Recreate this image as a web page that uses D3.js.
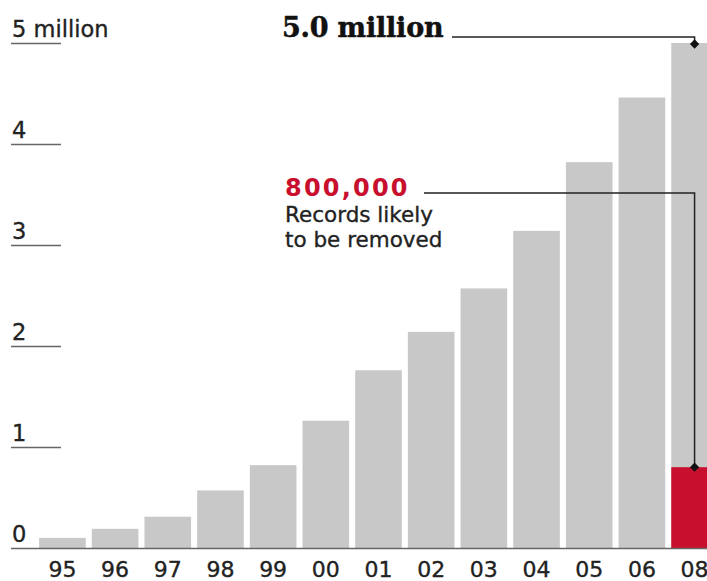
<!DOCTYPE html>
<html>
<head>
<meta charset="utf-8">
<script src="https://cdn.jsdelivr.net/npm/d3@7"></script>
<style>
  body { margin: 0; background: #fff; }
  svg { display: block; }
  .lbl { font-family: 'DejaVu Sans', sans-serif; fill: #222; stroke: #222; stroke-width: 0.35; }
</style>
</head>
<body>
<div id="chart"></div>
<script>
let width = 707,
  height = 581;

// data, millions of records
let years = ["95", "96", "97", "98", "99", "00", "01", "02", "03", "04", "05", "06", "08"];
let records = [0.1, 0.19, 0.31, 0.57, 0.82, 1.26, 1.76, 2.14, 2.57, 3.14, 3.82, 4.46, 5.0];
let removed = 0.8; // for the last year
let yTicks = [0, 1, 2, 3, 4, 5];
let yTickLabels = ["0", "1", "2", "3", "4", "5 million"];

let svg = d3.select("#chart")
  .append("svg")
  .attr("width", width)
  .attr("height", height);

let y = d3.scaleLinear()
  .domain([0, 5])
  .range([548, 43]);

let x = d3.scaleBand()
  .domain(years)
  .range([37, 720])
  .paddingInner(0.115)
  .paddingOuter(0.04);

// bars
svg.append("g")
  .selectAll("rect")
  .data(years)
  .join("rect")
  .attr("x", d => x(d))
  .attr("width", x.bandwidth())
  .attr("y", (d, i) => y(records[i]))
  .attr("height", (d, i) => y(0) - y(records[i]))
  .attr("fill", "#c8c8c8");

let last = years[years.length - 1];
svg.append("rect")
  .attr("x", x(last))
  .attr("width", x.bandwidth())
  .attr("y", y(removed))
  .attr("height", y(0) - y(removed))
  .attr("fill", "#c8102e");

// y ticks: short lines with label above
let yg = svg.append("g");
yg.selectAll("line")
  .data(yTicks.filter(d => d > 0))
  .join("line")
  .attr("x1", 11)
  .attr("x2", 61)
  .attr("y1", d => y(d) + 0.5)
  .attr("y2", d => y(d) + 0.5)
  .attr("stroke", "#666")
  .attr("stroke-width", 1.3);

yg.selectAll("text")
  .data(yTicks)
  .join("text")
  .attr("class", "lbl")
  .attr("x", 12)
  .attr("y", d => y(d) - 6)
  .attr("font-size", 22.5)
  .text((d, i) => yTickLabels[i]);

// baseline
svg.append("line")
  .attr("x1", 11)
  .attr("x2", width)
  .attr("y1", y(0) + 0.5)
  .attr("y2", y(0) + 0.5)
  .attr("stroke", "#666")
  .attr("stroke-width", 1.5);

// x labels
svg.append("g")
  .selectAll("text")
  .data(years)
  .join("text")
  .attr("class", "lbl")
  .attr("x", d => x(d) + x.bandwidth() / 2)
  .attr("y", 577)
  .attr("text-anchor", "middle")
  .attr("font-size", 22)
  .text(d => d);

// annotations
let px = x(last) + x.bandwidth() / 2;

function callout(yLine, yPoint, x0) {
  svg.append("path")
    .attr("d", `M${x0},${yLine}H${px}V${yPoint}`)
    .attr("fill", "none")
    .attr("stroke", "#222")
    .attr("stroke-width", 1.5);
  svg.append("path")
    .attr("d", d3.symbol(d3.symbolDiamond2, 55)())
    .attr("transform", `translate(${px},${yPoint})`)
    .attr("fill", "#111");
}

svg.append("text")
  .attr("x", 282)
  .attr("y", 37)
  .attr("font-family", "'DejaVu Serif', serif")
  .attr("font-weight", "bold")
  .attr("font-size", 27)
  .attr("letter-spacing", -0.2)
  .attr("fill", "#111")
  .attr("stroke", "#111")
  .attr("stroke-width", 0.5)
  .text("5.0 million");
callout(37, y(records[records.length - 1]) + 1, 452);

svg.append("text")
  .attr("x", 285)
  .attr("y", 196)
  .attr("font-family", "'DejaVu Sans', sans-serif")
  .attr("font-weight", "bold")
  .attr("font-size", 24)
  .attr("letter-spacing", 2.2)
  .attr("fill", "#c8102e")
  .text("800,000");
callout(193, y(removed), 424);

svg.append("text")
  .attr("class", "lbl")
  .attr("x", 285)
  .attr("y", 222)
  .attr("font-size", 21.5)
  .text("Records likely");
svg.append("text")
  .attr("class", "lbl")
  .attr("x", 285)
  .attr("y", 247)
  .attr("font-size", 21.5)
  .text("to be removed");
</script>
</body>
</html>
